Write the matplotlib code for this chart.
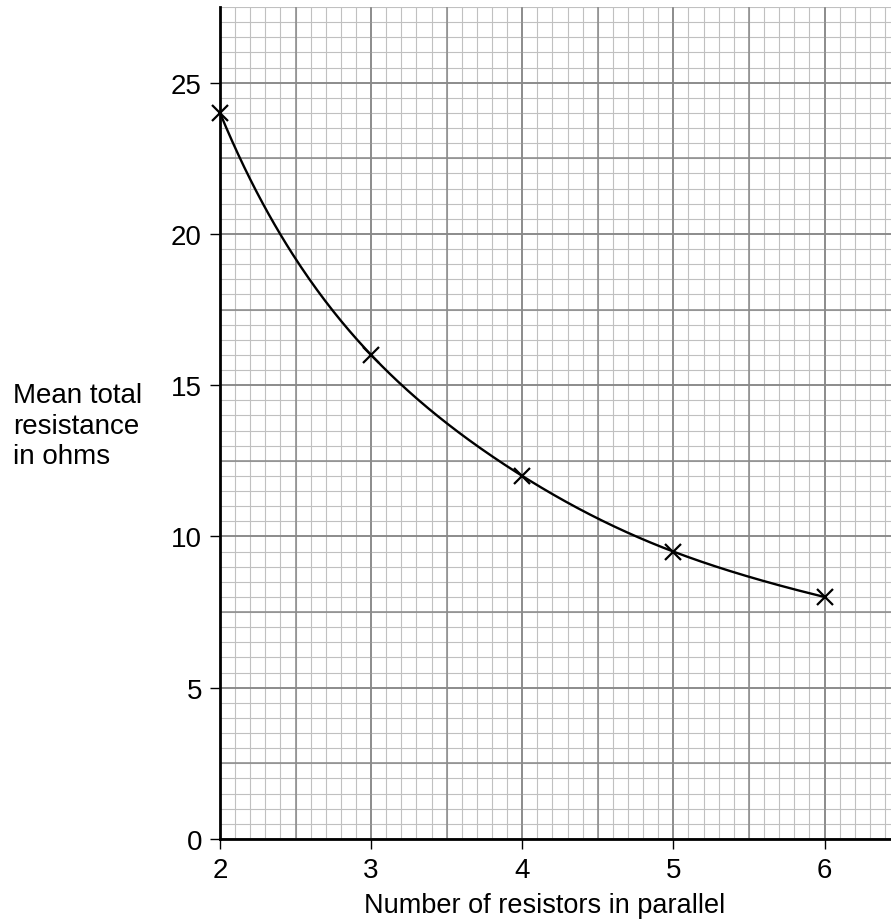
import numpy as np
import matplotlib.pyplot as plt
from matplotlib.ticker import MultipleLocator

plt.rcParams['font.family'] = ['Liberation Sans', 'DejaVu Sans']

# data
n_resistors = [2, 3, 4, 5, 6]
resistance = [24, 16, 12, 9.5, 8]
x_ticks = [2, 3, 4, 5, 6]
y_ticks = [0, 5, 10, 15, 20, 25]


def natural_spline(x, y, xs):
    """Natural cubic spline through (x, y), evaluated at xs."""
    x = np.asarray(x, float)
    y = np.asarray(y, float)
    n = len(x)
    h = np.diff(x)
    A = np.zeros((n, n))
    b = np.zeros(n)
    A[0, 0] = A[-1, -1] = 1
    for i in range(1, n - 1):
        A[i, i - 1] = h[i - 1]
        A[i, i] = 2 * (h[i - 1] + h[i])
        A[i, i + 1] = h[i]
        b[i] = 3 * ((y[i + 1] - y[i]) / h[i] - (y[i] - y[i - 1]) / h[i - 1])
    c = np.linalg.solve(A, b)
    idx = np.clip(np.searchsorted(x, xs) - 1, 0, n - 2)
    dx = xs - x[idx]
    bb = (y[idx + 1] - y[idx]) / h[idx] - h[idx] * (2 * c[idx] + c[idx + 1]) / 3
    d = (c[idx + 1] - c[idx]) / (3 * h[idx])
    return y[idx] + bb * dx + c[idx] * dx ** 2 + d * dx ** 3


fig = plt.figure(figsize=(8.91, 9.20), dpi=100)
ax = fig.add_axes([220 / 891, 80 / 920, 671 / 891, 832 / 920])

# smooth curve drawn in log-log space so it bends like the hand-drawn one
xs = np.linspace(n_resistors[0], n_resistors[-1], 300)
curve = np.exp(natural_spline(np.log(n_resistors), np.log(resistance), np.log(xs)))
ax.plot(xs, curve, color='black', lw=1.7, zorder=3)
ax.plot(n_resistors, resistance, 'x', color='black', ms=11, mew=1.6, zorder=4, clip_on=False)

ax.set_xlim(2, 6.44)
ax.set_ylim(0, 27.5)

# graph paper grid
ax.set_xticks(x_ticks)
ax.set_yticks(y_ticks)
ax.xaxis.set_minor_locator(MultipleLocator(0.1))
ax.yaxis.set_minor_locator(MultipleLocator(0.5))
ax.grid(which='minor', color='#c0c0c0', lw=0.8)
ax.grid(which='major', color='#888888', lw=1.1)
for xv in np.arange(2.5, 6.44, 0.5):
    ax.axvline(xv, color='#888888', lw=1.1, zorder=0.6)
for yv in np.arange(2.5, 27.5, 2.5):
    ax.axhline(yv, color='#888888', lw=1.1, zorder=0.6)
ax.set_axisbelow(True)
ax.tick_params(which='minor', length=0)
ax.tick_params(which='major', direction='out', length=7, width=1, pad=6,
               labelsize=20, color='black')

for s in ['top', 'right']:
    ax.spines[s].set_visible(False)
for s in ['left', 'bottom']:
    ax.spines[s].set_linewidth(2)
    ax.spines[s].set_color('black')

fig.text(545 / 891, 1 - 913 / 920, 'Number of resistors in parallel', ha='center',
         va='baseline', fontsize=19.5)
fig.text(13 / 891, 1 - 383 / 920, 'Mean total\nresistance\nin ohms', ha='left', va='top',
         fontsize=20, linespacing=1.235)

fig.savefig('out.png', dpi=100)
